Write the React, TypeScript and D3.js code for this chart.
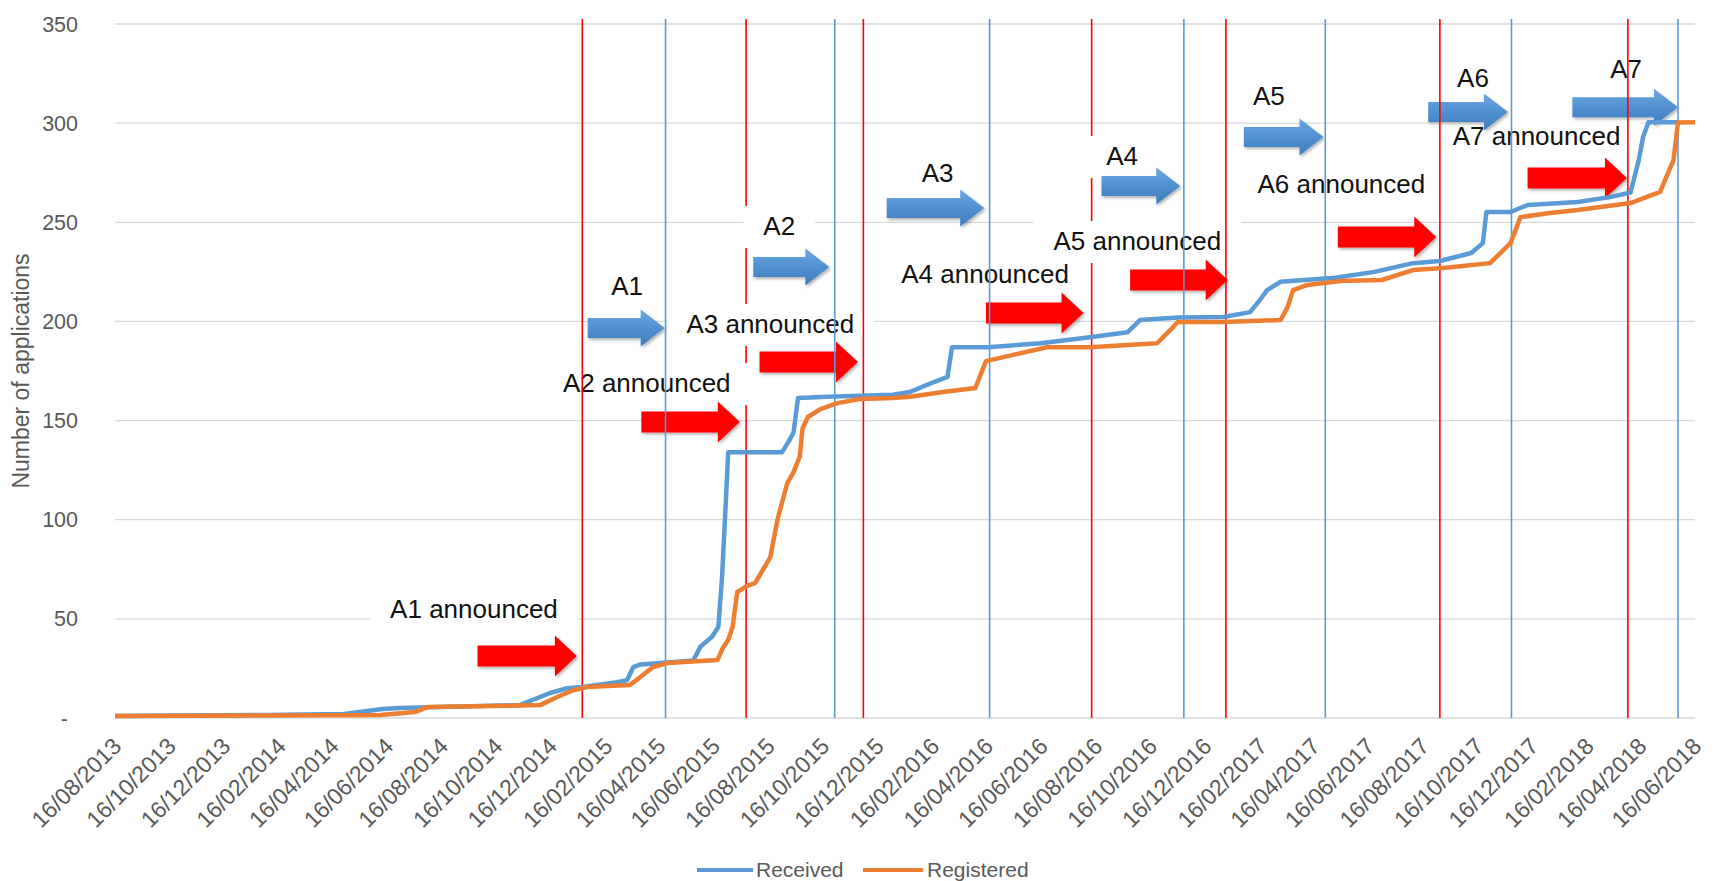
import React from "react";
import * as d3 from "d3";

// ---------- data ----------
const tickLabels = [
  "16/08/2013", "16/10/2013", "16/12/2013", "16/02/2014", "16/04/2014", "16/06/2014",
  "16/08/2014", "16/10/2014", "16/12/2014", "16/02/2015", "16/04/2015", "16/06/2015",
  "16/08/2015", "16/10/2015", "16/12/2015", "16/02/2016", "16/04/2016", "16/06/2016",
  "16/08/2016", "16/10/2016", "16/12/2016", "16/02/2017", "16/04/2017", "16/06/2017",
  "16/08/2017", "16/10/2017", "16/12/2017", "16/02/2018", "16/04/2018", "16/06/2018",
];
const yTicks = [0, 50, 100, 150, 200, 250, 300, 350];

const receivedDates = [
  "2013-08-16", "2014-02-03", "2014-04-29", "2014-06-11", "2014-06-30", "2014-11-11",
  "2014-12-15", "2015-01-03", "2015-01-20", "2015-02-28", "2015-03-11", "2015-03-18",
  "2015-03-26", "2015-04-25", "2015-05-24", "2015-06-01", "2015-06-14", "2015-06-21",
  "2015-06-25", "2015-06-29", "2015-07-02", "2015-08-31", "2015-09-07", "2015-09-13",
  "2015-09-18", "2015-10-21", "2016-01-02", "2016-01-21", "2016-02-09", "2016-03-03",
  "2016-03-08", "2016-04-17", "2016-06-15", "2016-08-09", "2016-09-20", "2016-10-04",
  "2016-11-16", "2017-01-05", "2017-02-04", "2017-02-15", "2017-02-23", "2017-03-10",
  "2017-05-10", "2017-06-23", "2017-08-05", "2017-09-04", "2017-10-09", "2017-10-22",
  "2017-10-26", "2017-11-22", "2017-12-11", "2018-02-05", "2018-03-13", "2018-04-05",
  "2018-04-14", "2018-04-19", "2018-04-25", "2018-05-27",
];
const receivedValues = [
  1, 1.5, 2, 4.5, 5, 6.5,
  12.6, 15, 15.6, 18, 19, 25.7,
  27, 28, 29, 36, 41, 46,
  70, 106, 134, 134, 139, 144,
  161.4, 162, 163, 164.4, 168, 172,
  187, 187, 189, 192, 194.5, 200.7,
  202, 202.2, 204.7, 210.8, 215.8, 220,
  222, 225, 229.4, 230.5, 234.5, 239.5,
  255.2, 255.2, 258.7, 260.2, 262.7, 265,
  281, 293, 300.5, 300.5,
];

const registeredDates = [
  "2013-08-16", "2014-06-08", "2014-07-17", "2014-07-31", "2014-12-04", "2014-12-23",
  "2015-01-10", "2015-01-25", "2015-03-14", "2015-03-26", "2015-04-09", "2015-04-25",
  "2015-06-20", "2015-06-26", "2015-07-02", "2015-07-07", "2015-07-12", "2015-07-23",
  "2015-08-01", "2015-08-18", "2015-08-26", "2015-09-06", "2015-09-13", "2015-09-20",
  "2015-09-23", "2015-09-29", "2015-10-13", "2015-11-01", "2015-11-26", "2016-01-02",
  "2016-01-21", "2016-02-27", "2016-04-03", "2016-04-15", "2016-06-22", "2016-08-09",
  "2016-10-23", "2016-11-07", "2016-11-15", "2017-01-05", "2017-03-10", "2017-03-18",
  "2017-03-24", "2017-04-09", "2017-05-16", "2017-07-01", "2017-08-05", "2017-09-08",
  "2017-10-30", "2017-11-22", "2017-12-03", "2018-01-05", "2018-02-05", "2018-04-05",
  "2018-05-08", "2018-05-23", "2018-05-28", "2018-06-16",
];
const registeredValues = [
  1, 1.5, 3, 5.5, 6.5, 10.6,
  14, 15.6, 16.6, 20.7, 25.7, 27.7,
  29.2, 35.3, 39.3, 46, 63.5, 66.6,
  68, 81, 100, 118.5, 124, 132,
  146, 151.8, 155.8, 158.8, 160.9, 161.4,
  162, 164.4, 166.4, 180, 187, 187,
  189, 195.7, 199.7, 199.7, 200.7, 207.3,
  215.8, 218.4, 220.4, 220.9, 225.9, 226.9,
  229.4, 239.5, 252.6, 254.7, 256.2, 259.7,
  265.3, 281.4, 300.3, 300.5,
];

// call announcement dates (red lines) and submission deadlines (blue lines)
const announcementDates = ["2015-01-20", "2015-07-22", "2015-11-30", "2016-08-11", "2017-01-08", "2017-09-04", "2018-04-02"];
const deadlineDates = ["2015-04-23", "2015-10-29", "2016-04-19", "2016-11-22", "2017-04-29", "2017-11-23", "2018-05-28"];

// annotations (anchored in data space)
const callNames = ["A1", "A2", "A3", "A4", "A5", "A6", "A7"];
const callArrowFrom = ["2015-01-26", "2015-07-30", "2015-12-26", "2016-08-22", "2017-01-28", "2017-08-22", "2018-01-30"];
const callArrowTo = ["2015-04-22", "2015-10-23", "2016-04-13", "2016-11-18", "2017-04-27", "2017-11-19", "2018-05-28"];
const callArrowLevel = [196.7, 227.4, 257.2, 268.3, 293, 305.6, 308];
const callLabelDate = ["2015-03-11", "2015-08-28", "2016-02-21", "2016-09-14", "2017-02-25", "2017-10-11", "2018-03-31"];
const callLabelLevel = [213.3, 243.6, 270.3, 278.9, 309, 318.2, 322.7];

const announceArrowFrom = ["2014-09-25", "2015-03-27", "2015-08-06", "2016-04-15", "2016-09-23", "2017-05-13", "2017-12-11"];
const announceArrowTo = ["2015-01-14", "2015-07-15", "2015-11-24", "2016-08-02", "2017-01-10", "2017-08-31", "2018-04-01"];
const announceArrowLevel = [31.3, 149.3, 179.5, 204.2, 220.9, 242.6, 272.3];
const announceLabelDate = ["2014-09-21", "2015-04-02", "2015-08-18", "2016-04-14", "2016-10-01", "2017-05-17", "2017-12-21"];
const announceLabelLevel = [50.4, 164.4, 194.2, 219.4, 236, 264.7, 289];
// red lines that sit underneath the white label boxes
const announcementsUnderLabels = [1, 3];

// ---------- layout ----------
const W = 1713;
const H = 881;
const M = { left: 115, right: 1695, top: 24, bottom: 718 };
const FONT = '"Liberation Sans", Arial, sans-serif';
const ANN_SIZE = 26;
const GREY = "#595959";
const BLUE = "#5b9bd5";
const ORANGE = "#ed7d31";
const RED = "#ff0000";

const parseISO = d3.timeParse("%Y-%m-%d");
const parseDMY = d3.timeParse("%d/%m/%Y");

let ctx: CanvasRenderingContext2D | null = null;
function textWidth(s: string, size: number) {
  try {
    if (!ctx) ctx = document.createElement("canvas").getContext("2d");
    if (ctx) {
      ctx.font = `${size}px "Liberation Sans", Arial, sans-serif`;
      return ctx.measureText(s).width;
    }
  } catch (e) {}
  return s.length * size * 0.54;
}

function arrowPath(x1: number, x2: number, yc: number, shaftH: number, headH: number, headL: number) {
  const hx = x2 - headL;
  return `M${x1},${yc - shaftH / 2}L${hx},${yc - shaftH / 2}L${hx},${yc - headH / 2}L${x2},${yc}L${hx},${yc + headH / 2}L${hx},${yc + shaftH / 2}L${x1},${yc + shaftH / 2}Z`;
}

export default function App() {
  const x = d3
    .scaleTime()
    .domain([parseDMY(tickLabels[0]) as Date, parseDMY(tickLabels[tickLabels.length - 1]) as Date])
    .range([M.left, M.right]);
  const y = d3.scaleLinear().domain([0, 350]).range([M.bottom, M.top]);

  const received = receivedDates.map((d, i) => ({ date: parseISO(d) as Date, value: receivedValues[i] }));
  const registered = registeredDates.map((d, i) => ({ date: parseISO(d) as Date, value: registeredValues[i] }));
  const line = d3
    .line<{ date: Date; value: number }>()
    .x((d) => x(d.date))
    .y((d) => y(d.value));

  const lineTop = y(352.5);

  const eventLine = (d: string, color: string, key: string, w: number) => {
    const xx = x(parseISO(d) as Date);
    return <line key={key} x1={xx} x2={xx} y1={lineTop} y2={M.bottom} stroke={color} strokeWidth={w} />;
  };

  const labels = [
    ...callNames.map((n, i) => ({ text: n, date: callLabelDate[i], level: callLabelLevel[i] })),
    ...callNames.map((n, i) => ({ text: `${n} announced`, date: announceLabelDate[i], level: announceLabelLevel[i] })),
  ];

  return (
    <svg
      width={W}
      height={H}
      viewBox={`0 0 ${W} ${H}`}
      style={{ position: "absolute", left: 0, top: 0, background: "#fff" }}
      fontFamily={FONT}
    >
      <defs>
        <linearGradient id="blueArrow" x1="0" y1="0" x2="0" y2="1">
          <stop offset="0%" stopColor="#6ba7e0" />
          <stop offset="55%" stopColor="#4f8ecf" />
          <stop offset="100%" stopColor="#3c7cbd" />
        </linearGradient>
        <filter id="shadow" x="-10%" y="-30%" width="130%" height="170%">
          <feDropShadow dx="1.5" dy="2" stdDeviation="1.5" floodColor="#000" floodOpacity="0.3" />
        </filter>
      </defs>
      <rect x={0} y={0} width={W} height={H} fill="#fff" />

      {/* gridlines */}
      {yTicks.map((t) => (
        <line key={`g${t}`} x1={M.left} x2={M.right} y1={y(t)} y2={y(t)} stroke="#d9d9d9" strokeWidth={1.3} />
      ))}

      {/* red lines hidden by labels */}
      {announcementsUnderLabels.map((i) => eventLine(announcementDates[i], RED, `ru${i}`, 1.6))}

      {/* label boxes and text */}
      {labels.map((l, i) => {
        const cx = x(parseISO(l.date) as Date);
        const by = y(l.level);
        const w = textWidth(l.text, ANN_SIZE);
        return (
          <g key={`lb${i}`}>
            <rect x={cx - w / 2 - 20} y={by - 29} width={w + 40} height={42} fill="#fff" />
            <text x={cx} y={by} textAnchor="middle" fontSize={ANN_SIZE} fill="#111">
              {l.text}
            </text>
          </g>
        );
      })}

      {/* arrows */}
      {callNames.map((n, i) => (
        <path
          key={`ba${i}`}
          d={arrowPath(x(parseISO(callArrowFrom[i]) as Date), x(parseISO(callArrowTo[i]) as Date), y(callArrowLevel[i]), 20, 37, 24)}
          fill="url(#blueArrow)"
          filter="url(#shadow)"
        />
      ))}
      {callNames.map((n, i) => (
        <path
          key={`ra${i}`}
          d={arrowPath(x(parseISO(announceArrowFrom[i]) as Date), x(parseISO(announceArrowTo[i]) as Date), y(announceArrowLevel[i]), 21, 41, 22)}
          fill={RED}
          filter="url(#shadow)"
        />
      ))}

      {/* event lines */}
      {announcementDates.map((d, i) =>
        announcementsUnderLabels.includes(i) ? null : eventLine(d, RED, `r${i}`, 1.6)
      )}
      {deadlineDates.map((d, i) => eventLine(d, BLUE, `b${i}`, 1.6))}

      {/* series */}
      <path d={line(received) || ""} fill="none" stroke={BLUE} strokeWidth={4.5} strokeLinejoin="round" />
      <path d={line(registered) || ""} fill="none" stroke={ORANGE} strokeWidth={4.5} strokeLinejoin="round" />

      {/* y axis labels */}
      {yTicks.map((t) => (
        <text
          key={`yl${t}`}
          x={t === 0 ? 68 : 78}
          y={y(t)}
          dy="0.35em"
          textAnchor="end"
          fontSize={21.5}
          fill={GREY}
        >
          {t === 0 ? "-" : String(t)}
        </text>
      ))}
      <text
        transform={`translate(21,${(M.top + M.bottom) / 2}) rotate(-90)`}
        textAnchor="middle"
        dy="0.35em"
        fontSize={23}
        fill={GREY}
      >
        Number of applications
      </text>

      {/* x axis labels */}
      {tickLabels.map((t) => {
        const xx = x(parseDMY(t) as Date);
        return (
          <text
            key={`xl${t}`}
            transform={`translate(${xx + 2},742) rotate(-45)`}
            textAnchor="end"
            dy="0.35em"
            fontSize={23}
            fill={GREY}
          >
            {t}
          </text>
        );
      })}

      {/* legend */}
      <line x1={697} x2={753} y1={870} y2={870} stroke={BLUE} strokeWidth={4} />
      <text x={756} y={877} fontSize={21} fill={GREY}>
        Received
      </text>
      <line x1={863} x2={923} y1={870} y2={870} stroke={ORANGE} strokeWidth={4} />
      <text x={927} y={877} fontSize={21} fill={GREY}>
        Registered
      </text>
    </svg>
  );
}
